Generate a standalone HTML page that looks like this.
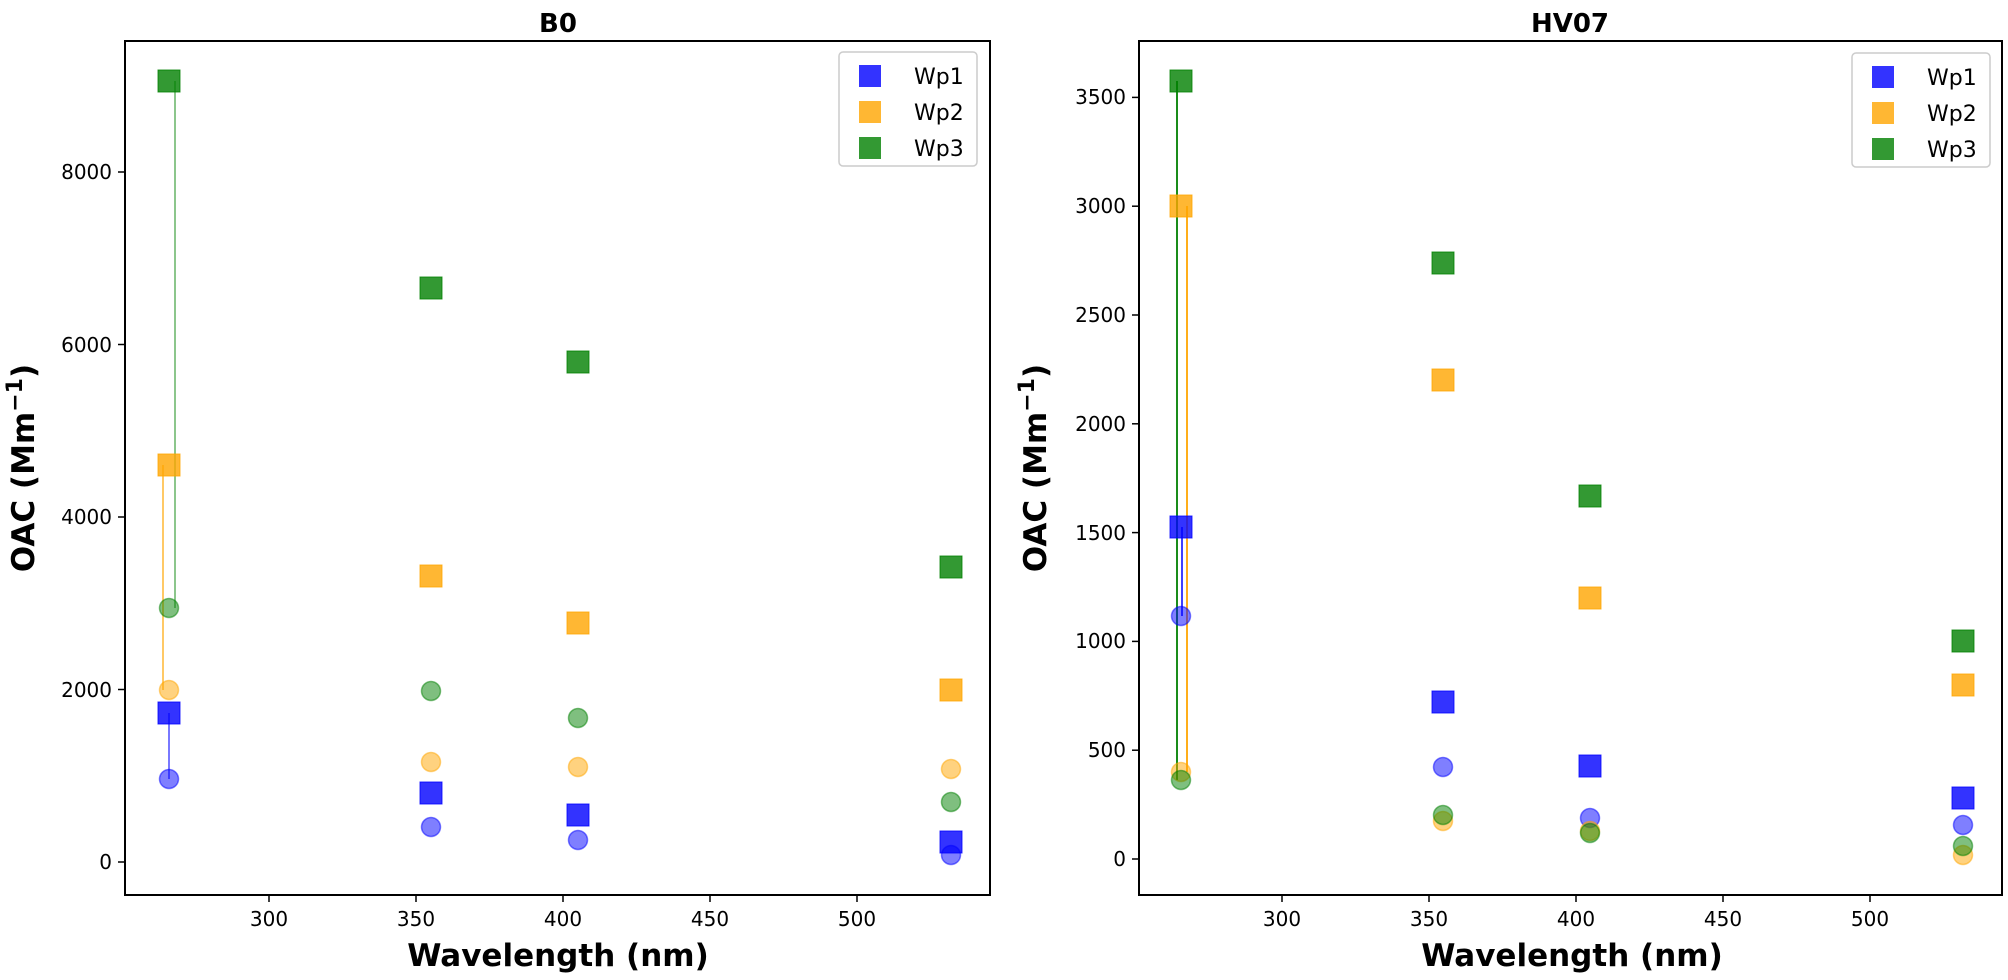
<!DOCTYPE html>
<html><head><meta charset="utf-8"><style>html,body{margin:0;padding:0;background:#fff}svg{display:block}text{font-family:"DejaVu Sans","Liberation Sans",sans-serif;fill:#000}</style></head>
<body>
<svg width="2008" height="980" viewBox="0 0 2008 980" xmlns="http://www.w3.org/2000/svg">
<!-- LEFT PLOT -->
<g>
<text x="558" y="32" font-size="26" font-weight="bold" text-anchor="middle">B0</text>
<line x1="175" y1="81" x2="175" y2="608" stroke="#008000" stroke-opacity="0.6" stroke-width="1.5"/>
<line x1="163" y1="465" x2="163" y2="690" stroke="#ffa500" stroke-opacity="0.8" stroke-width="1.5"/>
<line x1="169" y1="713" x2="169" y2="779" stroke="#0000ff" stroke-opacity="0.7" stroke-width="1.5"/>
<g fill-opacity="0.5" stroke-opacity="0.5" stroke-width="1.5">
<circle cx="169" cy="608" r="9.5" fill="#008000" stroke="#008000"/>
<circle cx="431" cy="691" r="9.5" fill="#008000" stroke="#008000"/>
<circle cx="578" cy="718" r="9.5" fill="#008000" stroke="#008000"/>
<circle cx="951" cy="802" r="9.5" fill="#008000" stroke="#008000"/>
<circle cx="169" cy="690" r="9.5" fill="#ffa500" stroke="#ffa500"/>
<circle cx="431" cy="762" r="9.5" fill="#ffa500" stroke="#ffa500"/>
<circle cx="578" cy="767" r="9.5" fill="#ffa500" stroke="#ffa500"/>
<circle cx="951" cy="769" r="9.5" fill="#ffa500" stroke="#ffa500"/>
<circle cx="169" cy="779" r="9.5" fill="#0000ff" stroke="#0000ff"/>
<circle cx="431" cy="827" r="9.5" fill="#0000ff" stroke="#0000ff"/>
<circle cx="578" cy="840" r="9.5" fill="#0000ff" stroke="#0000ff"/>
<circle cx="951" cy="855" r="9.5" fill="#0000ff" stroke="#0000ff"/>
</g>
<g fill-opacity="0.8" stroke-opacity="0.8" stroke-width="1">
<rect x="158" y="70" width="22" height="22" fill="#008000" stroke="#008000"/>
<rect x="420" y="277" width="22" height="22" fill="#008000" stroke="#008000"/>
<rect x="567" y="351" width="22" height="22" fill="#008000" stroke="#008000"/>
<rect x="940" y="556" width="22" height="22" fill="#008000" stroke="#008000"/>
<rect x="158" y="454" width="22" height="22" fill="#ffa500" stroke="#ffa500"/>
<rect x="420" y="565" width="22" height="22" fill="#ffa500" stroke="#ffa500"/>
<rect x="567" y="612" width="22" height="22" fill="#ffa500" stroke="#ffa500"/>
<rect x="940" y="679" width="22" height="22" fill="#ffa500" stroke="#ffa500"/>
<rect x="158" y="702" width="22" height="22" fill="#0000ff" stroke="#0000ff"/>
<rect x="420" y="782" width="22" height="22" fill="#0000ff" stroke="#0000ff"/>
<rect x="567" y="804" width="22" height="22" fill="#0000ff" stroke="#0000ff"/>
<rect x="940" y="831" width="22" height="22" fill="#0000ff" stroke="#0000ff"/>
</g>
<rect x="125" y="41" width="865" height="854" fill="none" stroke="#000" stroke-width="2"/>
<g stroke="#000" stroke-width="1.5">
<line x1="118" y1="862" x2="125" y2="862"/><line x1="118" y1="689.5" x2="125" y2="689.5"/><line x1="118" y1="517" x2="125" y2="517"/><line x1="118" y1="344.5" x2="125" y2="344.5"/><line x1="118" y1="172" x2="125" y2="172"/>
<line x1="269" y1="895" x2="269" y2="902"/><line x1="416" y1="895" x2="416" y2="902"/><line x1="563" y1="895" x2="563" y2="902"/><line x1="710" y1="895" x2="710" y2="902"/><line x1="857" y1="895" x2="857" y2="902"/>
</g>
<g font-size="20" text-anchor="end">
<text x="112" y="869">0</text><text x="112" y="697">2000</text><text x="112" y="524">4000</text><text x="112" y="352">6000</text><text x="112" y="179">8000</text>
</g>
<g font-size="20" text-anchor="middle">
<text x="269" y="926">300</text><text x="416" y="926">350</text><text x="563" y="926">400</text><text x="710" y="926">450</text><text x="857" y="926">500</text>
</g>
<text x="558" y="966" font-size="31" font-weight="bold" text-anchor="middle">Wavelength (nm)</text>
<text transform="translate(34,468) rotate(-90)" font-size="31" font-weight="bold" text-anchor="middle">OAC (Mm<tspan font-size="22" dy="-12">−1</tspan><tspan dy="12">)</tspan></text>
<rect x="839" y="52" width="138" height="114" rx="4" fill="#fff" fill-opacity="0.8" stroke="#ccc" stroke-width="1.5"/>
<rect x="859" y="65" width="22" height="22" fill="#0000ff" fill-opacity="0.8"/>
<rect x="859" y="101" width="22" height="22" fill="#ffa500" fill-opacity="0.8"/>
<rect x="859" y="137" width="22" height="22" fill="#008000" fill-opacity="0.8"/>
<g font-size="22"><text x="914" y="84">Wp1</text><text x="914" y="120">Wp2</text><text x="914" y="156">Wp3</text></g>
</g>
<!-- RIGHT PLOT -->
<g>
<text x="1570" y="32" font-size="26" font-weight="bold" text-anchor="middle">HV07</text>
<line x1="1177" y1="81" x2="1177" y2="780" stroke="#008000" stroke-width="1.8"/>
<line x1="1187" y1="206" x2="1187" y2="772" stroke="#ffa500" stroke-width="1.8"/>
<line x1="1182" y1="527" x2="1182" y2="616" stroke="#0000ff" stroke-width="1.5"/>
<g fill-opacity="0.5" stroke-opacity="0.5" stroke-width="1.5">
<circle cx="1181" cy="616" r="9.5" fill="#0000ff" stroke="#0000ff"/>
<circle cx="1443" cy="767" r="9.5" fill="#0000ff" stroke="#0000ff"/>
<circle cx="1590" cy="818" r="9.5" fill="#0000ff" stroke="#0000ff"/>
<circle cx="1963" cy="825" r="9.5" fill="#0000ff" stroke="#0000ff"/>
<circle cx="1181" cy="772" r="9.5" fill="#ffa500" stroke="#ffa500"/>
<circle cx="1443" cy="821" r="9.5" fill="#ffa500" stroke="#ffa500"/>
<circle cx="1590" cy="831" r="9.5" fill="#ffa500" stroke="#ffa500"/>
<circle cx="1963" cy="855" r="9.5" fill="#ffa500" stroke="#ffa500"/>
<circle cx="1181" cy="780" r="9.5" fill="#008000" stroke="#008000"/>
<circle cx="1443" cy="815" r="9.5" fill="#008000" stroke="#008000"/>
<circle cx="1590" cy="833" r="9.5" fill="#008000" stroke="#008000"/>
<circle cx="1963" cy="846" r="9.5" fill="#008000" stroke="#008000"/>
</g>
<g fill-opacity="0.8" stroke-opacity="0.8" stroke-width="1">
<rect x="1170" y="70" width="22" height="22" fill="#008000" stroke="#008000"/>
<rect x="1432" y="252" width="22" height="22" fill="#008000" stroke="#008000"/>
<rect x="1579" y="485" width="22" height="22" fill="#008000" stroke="#008000"/>
<rect x="1952" y="630" width="22" height="22" fill="#008000" stroke="#008000"/>
<rect x="1170" y="195" width="22" height="22" fill="#ffa500" stroke="#ffa500"/>
<rect x="1432" y="369" width="22" height="22" fill="#ffa500" stroke="#ffa500"/>
<rect x="1579" y="587" width="22" height="22" fill="#ffa500" stroke="#ffa500"/>
<rect x="1952" y="674" width="22" height="22" fill="#ffa500" stroke="#ffa500"/>
<rect x="1170" y="516" width="22" height="22" fill="#0000ff" stroke="#0000ff"/>
<rect x="1432" y="691" width="22" height="22" fill="#0000ff" stroke="#0000ff"/>
<rect x="1579" y="755" width="22" height="22" fill="#0000ff" stroke="#0000ff"/>
<rect x="1952" y="787" width="22" height="22" fill="#0000ff" stroke="#0000ff"/>
</g>
<rect x="1139" y="41" width="863" height="854" fill="none" stroke="#000" stroke-width="2"/>
<g stroke="#000" stroke-width="1.5">
<line x1="1132" y1="859" x2="1139" y2="859"/><line x1="1132" y1="750.2" x2="1139" y2="750.2"/><line x1="1132" y1="641.4" x2="1139" y2="641.4"/><line x1="1132" y1="532.6" x2="1139" y2="532.6"/><line x1="1132" y1="423.8" x2="1139" y2="423.8"/><line x1="1132" y1="315" x2="1139" y2="315"/><line x1="1132" y1="206.2" x2="1139" y2="206.2"/><line x1="1132" y1="97.4" x2="1139" y2="97.4"/>
<line x1="1282" y1="895" x2="1282" y2="902"/><line x1="1429" y1="895" x2="1429" y2="902"/><line x1="1576" y1="895" x2="1576" y2="902"/><line x1="1723" y1="895" x2="1723" y2="902"/><line x1="1870" y1="895" x2="1870" y2="902"/>
</g>
<g font-size="20" text-anchor="end">
<text x="1126" y="866">0</text><text x="1126" y="757">500</text><text x="1126" y="648">1000</text><text x="1126" y="540">1500</text><text x="1126" y="431">2000</text><text x="1126" y="322">2500</text><text x="1126" y="213">3000</text><text x="1126" y="104">3500</text>
</g>
<g font-size="20" text-anchor="middle">
<text x="1282" y="926">300</text><text x="1429" y="926">350</text><text x="1576" y="926">400</text><text x="1723" y="926">450</text><text x="1870" y="926">500</text>
</g>
<text x="1572" y="966" font-size="31" font-weight="bold" text-anchor="middle">Wavelength (nm)</text>
<text transform="translate(1046,468) rotate(-90)" font-size="31" font-weight="bold" text-anchor="middle">OAC (Mm<tspan font-size="22" dy="-12">−1</tspan><tspan dy="12">)</tspan></text>
<rect x="1852" y="53" width="138" height="114" rx="4" fill="#fff" fill-opacity="0.8" stroke="#ccc" stroke-width="1.5"/>
<rect x="1872" y="66" width="22" height="22" fill="#0000ff" fill-opacity="0.8"/>
<rect x="1872" y="102" width="22" height="22" fill="#ffa500" fill-opacity="0.8"/>
<rect x="1872" y="138" width="22" height="22" fill="#008000" fill-opacity="0.8"/>
<g font-size="22"><text x="1927" y="85">Wp1</text><text x="1927" y="121">Wp2</text><text x="1927" y="157">Wp3</text></g>
</g>
</svg>
</body></html>
